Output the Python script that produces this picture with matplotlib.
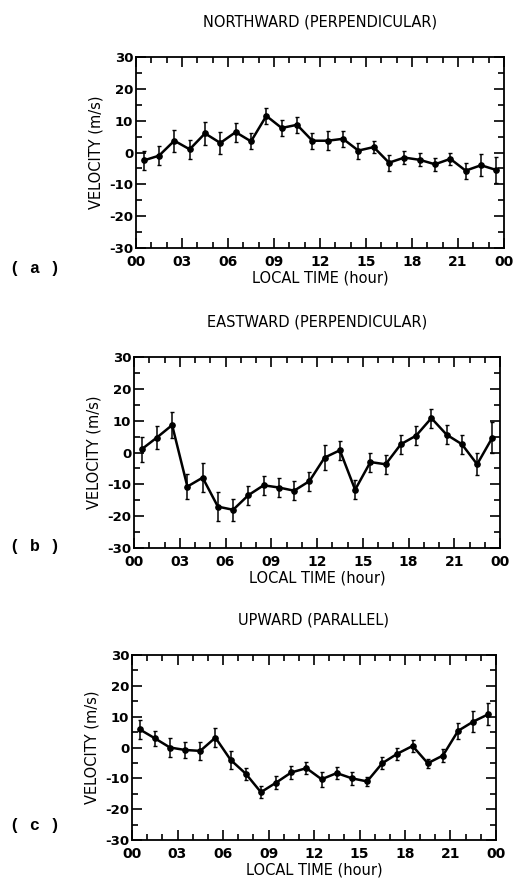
import matplotlib
matplotlib.use("Agg")
import matplotlib.pyplot as plt
from matplotlib.ticker import MultipleLocator

plt.rcParams["axes.unicode_minus"] = False

hours = [h + 0.5 for h in range(24)]
xtick_pos = [0, 3, 6, 9, 12, 15, 18, 21, 24]
xtick_labels = ["00", "03", "06", "09", "12", "15", "18", "21", "00"]

north = [-2.5, -1.0, 3.7, 1.0, 6.0, 3.0, 6.4, 3.5, 11.5, 7.7, 8.7, 3.7,
         3.7, 4.3, 0.6, 1.7, -3.2, -1.6, -2.3, -3.7, -2.0, -5.7, -4.0, -5.5]
north_err = [3.0, 3.0, 3.5, 3.0, 3.5, 3.5, 3.0, 2.5, 2.5, 2.5, 2.5, 2.5,
             3.0, 2.5, 2.5, 2.0, 2.5, 2.0, 2.0, 2.0, 2.0, 2.5, 3.5, 4.0]

east = [1.0, 4.7, 8.6, -10.7, -7.9, -17.0, -18.0, -13.4, -10.3, -11.0, -12.0, -9.0,
        -1.6, 0.7, -11.7, -3.0, -3.7, 2.6, 5.3, 10.8, 5.6, 2.6, -3.7, 4.7]
east_err = [4.0, 3.5, 4.0, 4.0, 4.5, 4.5, 3.5, 3.0, 3.0, 3.0, 3.0, 3.0,
            4.0, 3.0, 3.0, 3.0, 3.0, 3.0, 3.0, 3.0, 3.0, 3.0, 3.5, 5.0]

up = [5.9, 3.0, 0.0, -0.8, -1.1, 3.2, -4.0, -8.5, -14.5, -11.4, -8.1, -6.7,
      -10.3, -8.3, -10.0, -11.0, -5.1, -2.0, 0.5, -5.1, -2.6, 5.4, 8.4, 10.8]
up_err = [3.0, 2.5, 3.0, 2.5, 3.0, 3.0, 3.0, 2.0, 2.0, 2.0, 2.0, 2.0,
          2.5, 2.0, 2.0, 1.5, 2.0, 2.0, 2.0, 1.5, 2.0, 2.5, 3.5, 3.5]

titles = ["NORTHWARD (PERPENDICULAR)", "EASTWARD (PERPENDICULAR)", "UPWARD (PARALLEL)"]
panel_labels = ["( a )", "( b )", "( c )"]

W, H = 519, 888
fig = plt.figure(figsize=(W / 100, H / 100), dpi=100)

# axes boxes in pixels: left, right, top, bottom
boxes = [(136, 504, 57, 248), (134, 500, 357, 548), (132, 496, 655, 840)]
series = [(north, north_err), (east, east_err), (up, up_err)]
label_y = [268, 547, 825]

for (l, r, t, b), (vals, errs), title, pl, ly in zip(boxes, series, titles, panel_labels, label_y):
    ax = fig.add_axes([l / W, 1 - b / H, (r - l) / W, (b - t) / H])
    ax.errorbar(hours, vals, yerr=errs, color="black", lw=1.8, marker="o",
                ms=3.8, elinewidth=1.1, capsize=1.2, capthick=1.0)
    ax.set_xlim(0, 24)
    ax.set_ylim(-30, 30)
    ax.set_xticks(xtick_pos)
    ax.set_xticklabels(xtick_labels)
    ax.xaxis.set_minor_locator(MultipleLocator(1))
    ax.yaxis.set_major_locator(MultipleLocator(10))
    ax.yaxis.set_minor_locator(MultipleLocator(5))
    ax.tick_params(which="both", direction="in", top=True, right=True,
                   width=1.2)
    ax.tick_params(which="major", length=7)
    ax.tick_params(which="minor", length=4)
    ax.tick_params(axis="x", which="major", pad=5, labelsize=10)
    ax.tick_params(axis="y", which="major", pad=2, labelsize=9.5)
    for lab in ax.get_xticklabels() + ax.get_yticklabels():
        lab.set_fontweight("bold")
    for s in ax.spines.values():
        s.set_linewidth(1.3)
    ax.set_xlabel("LOCAL TIME (hour)", fontsize=10.5, labelpad=1)
    ax.set_ylabel("VELOCITY (m/s)", fontsize=10.5, labelpad=4)
    ax.set_title(title, fontsize=10.5, pad=22)
    fig.text(10 / W, 1 - ly / H, pl, fontsize=12, fontweight="bold",
             family="Liberation Mono", va="center", ha="left")

fig.savefig("out.png", dpi=100)
